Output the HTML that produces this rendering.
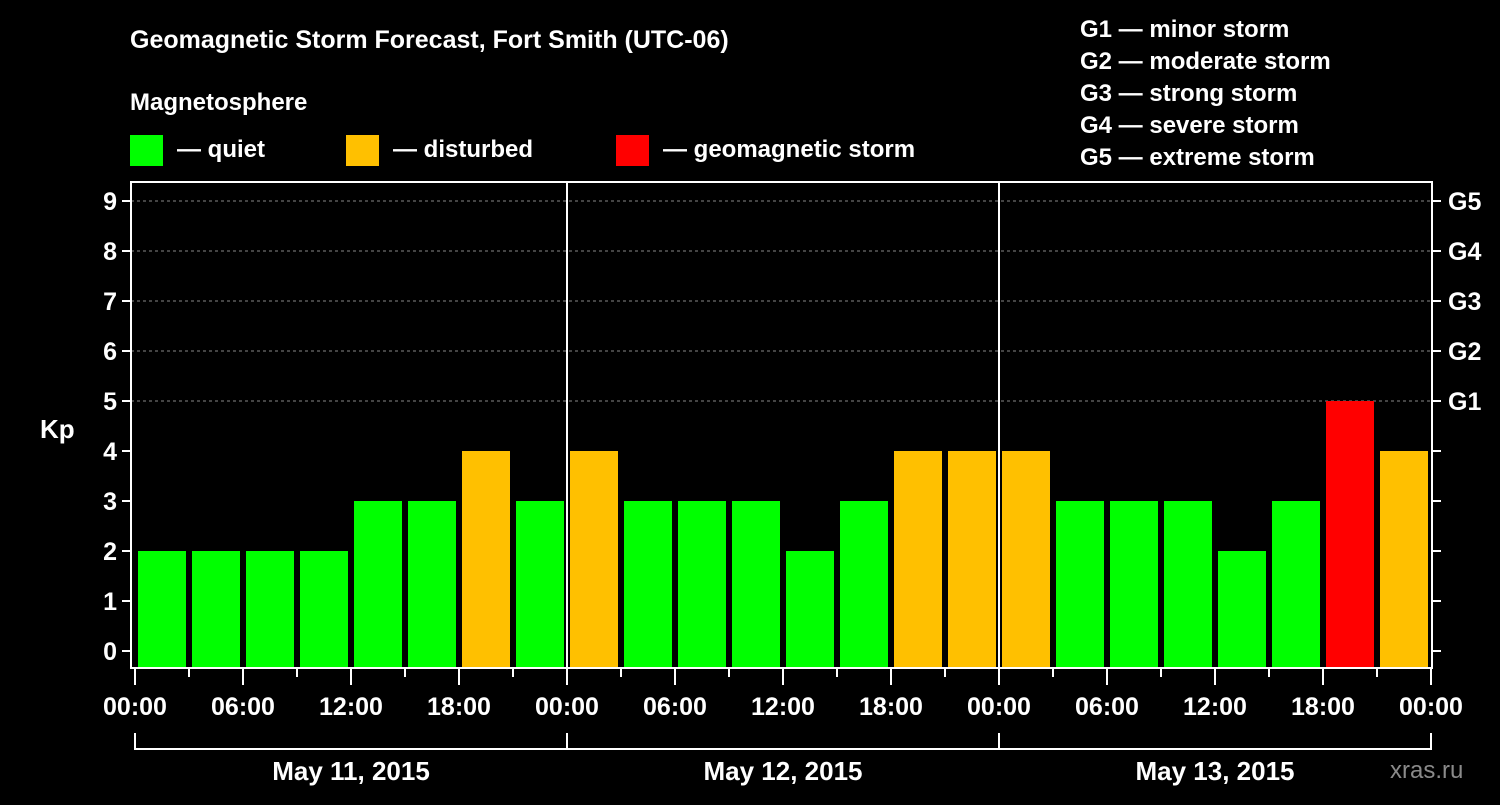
<!DOCTYPE html>
<html><head><meta charset="utf-8"><style>
body{margin:0;background:#000;width:1500px;height:800px;overflow:hidden}
svg text{font-family:"Liberation Sans",Arial,sans-serif;font-weight:bold;fill:#fff}
</style></head><body>
<svg id="c" width="1500" height="800" xmlns="http://www.w3.org/2000/svg">
<text x="130" y="48" font-size="25">Geomagnetic Storm Forecast, Fort Smith (UTC-06)</text>
<text x="130" y="110" font-size="24">Magnetosphere</text>
<g><rect x="130" y="135" width="33" height="31" fill="#00ff00"/><text x="177" y="157" font-size="24">— quiet</text></g>
<g><rect x="346" y="135" width="33" height="31" fill="#ffc000"/><text x="393" y="157" font-size="24">— disturbed</text></g>
<g><rect x="616" y="135" width="33" height="31" fill="#ff0000"/><text x="663" y="157" font-size="24">— geomagnetic storm</text></g>
<g font-size="24">
<text x="1080" y="37">G1 — minor storm</text><text x="1080" y="69">G2 — moderate storm</text><text x="1080" y="101">G3 — strong storm</text><text x="1080" y="133">G4 — severe storm</text><text x="1080" y="165">G5 — extreme storm</text></g>
<text x="40" y="438" font-size="26">Kp</text>
<text x="1390" y="778" font-size="24" fill="#888" style="fill:#8a8a8a;font-weight:normal">xras.ru</text>
<g id="plot"></g>
</svg>
<script>
const kpValues=[2,2,2,2,3,3,4,3, 4,3,3,3,2,3,4,4, 4,3,3,3,2,3,5,4];
const dayLabels=["May 11, 2015","May 12, 2015","May 13, 2015"];
const hourLabels=["00:00","06:00","12:00","18:00"];
const yTicks=[0,1,2,3,4,5,6,7,8,9];
const gLabels=["G1","G2","G3","G4","G5"];
const NS="http://www.w3.org/2000/svg";
const g=document.getElementById('plot');
const L=131,R=1432,T=182,B=668,X0=135,SLOT=54;
const y=v=>651-v*50;
const x=i=>X0+i*SLOT;
function mk(t,a){const e=document.createElementNS(NS,t);for(const k in a)e.setAttribute(k,a[k]);g.appendChild(e);return e;}
yTicks.forEach(v=>{
 if(v>=5){const gl=mk('line',{x1:L,x2:R,y1:y(v),y2:y(v),stroke:'#888','stroke-dasharray':'3,3','stroke-width':1});
 
 }
 const t=mk('line',{x1:L-9,x2:L,y1:y(v),y2:y(v),stroke:'#fff','stroke-width':2});
 
 
 const t2=mk('line',{x1:R,x2:R+9,y1:y(v),y2:y(v),stroke:'#fff','stroke-width':2});
 
 
 const lb=mk('text',{x:L-14,y:y(v)+9,'font-size':25,'text-anchor':'end'});lb.textContent=v;
 
 
 if(v>=5){const gt=mk('text',{x:R+16,y:y(v)+9,'font-size':25});gt.textContent=gLabels[v-5];
 
 }
});
kpValues.forEach((v,i)=>{
 const c=v>=5?'#ff0000':v==4?'#ffc000':'#00ff00';
 const r=mk('rect',{x:x(i)+3,y:y(v),width:48,height:B-y(v),fill:c});
 
 
});
const fr=mk('rect',{x:L,y:T,width:R-L,height:B-T,fill:'none',stroke:'#fff','stroke-width':2});


for(let d=1;d<dayLabels.length;d++){const s=mk('line',{x1:x(d*8),x2:x(d*8),y1:T,y2:B,stroke:'#fff','stroke-width':2});
 
 }
for(let i=0;i<=kpValues.length;i++){
 const major=i%2==0;
 const tk=mk('line',{x1:x(i),x2:x(i),y1:B,y2:B+(major?17:9),stroke:'#fff','stroke-width':2});
 
 
 if(major){const lb=mk('text',{x:x(i),y:715,'font-size':25,'text-anchor':'middle'});lb.textContent=hourLabels[(i/2)%4];
 
 }
}
const br=mk('path',{d:`M${x(0)},733 V749 H${x(24)} V733 M${x(8)},733 V749 M${x(16)},733 V749`,stroke:'#fff','stroke-width':2,fill:'none'});


dayLabels.forEach((d,k)=>{const t=mk('text',{x:x(k*8+4),y:780,'font-size':26,'text-anchor':'middle'});t.textContent=d;
 
 });
</script>
</body></html>
